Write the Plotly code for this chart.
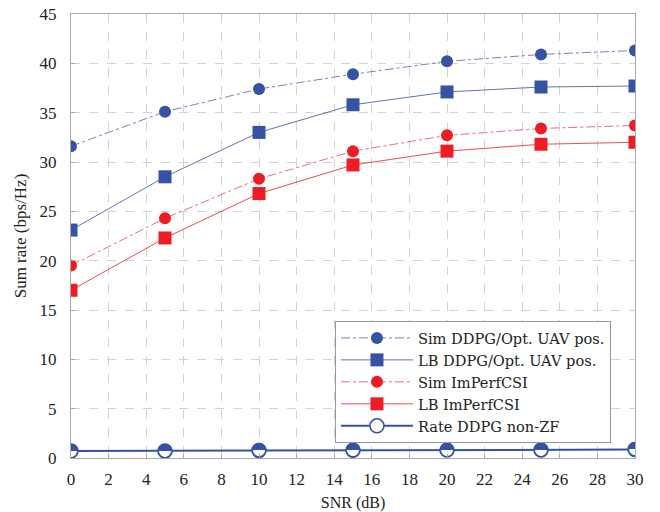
import plotly.graph_objects as go

snr = [0, 5, 10, 15, 20, 25, 30]
sim_ddpg = [31.6, 35.1, 37.4, 38.9, 40.2, 40.9, 41.3]
lb_ddpg = [23.1, 28.5, 33.0, 35.8, 37.1, 37.6, 37.7]
sim_imperf = [19.5, 24.3, 28.3, 31.1, 32.7, 33.4, 33.7]
lb_imperf = [17.0, 22.3, 26.8, 29.7, 31.1, 31.8, 32.0]
nonzf = [0.70, 0.72, 0.75, 0.78, 0.80, 0.82, 0.85]

xticks = list(range(0, 31, 2))
yticks = list(range(0, 46, 5))

BLUE = "#3652A5"
RED = "#EE1C25"
FONT = "Liberation Serif, DejaVu Serif, serif"
LFONT = "DejaVu Serif, serif"

fig = go.Figure()
fig.add_trace(go.Scatter(x=snr, y=sim_ddpg, mode="lines+markers", name="Sim DDPG/Opt. UAV pos.",
                         line=dict(color="rgba(54,82,165,0.7)", width=1, dash="dashdot"),
                         marker=dict(symbol="circle", size=12, color=BLUE)))
fig.add_trace(go.Scatter(x=snr, y=lb_ddpg, mode="lines+markers", name="LB DDPG/Opt. UAV pos.",
                         line=dict(color="rgba(54,82,165,0.8)", width=1),
                         marker=dict(symbol="square", size=13, color=BLUE)))
fig.add_trace(go.Scatter(x=snr, y=sim_imperf, mode="lines+markers", name="Sim ImPerfCSI",
                         line=dict(color="rgba(238,28,37,0.65)", width=1, dash="dashdot"),
                         marker=dict(symbol="circle", size=12, color=RED)))
fig.add_trace(go.Scatter(x=snr, y=lb_imperf, mode="lines+markers", name="LB ImPerfCSI",
                         line=dict(color="rgba(238,28,37,0.8)", width=1),
                         marker=dict(symbol="square", size=13, color=RED)))
fig.add_trace(go.Scatter(x=snr, y=nonzf, mode="lines+markers", name="Rate DDPG non-ZF",
                         line=dict(color=BLUE, width=2),
                         marker=dict(symbol="circle", size=14, color="white",
                                     gradient=dict(type="vertical", color="white"),
                                     line=dict(color=BLUE, width=1.5))))
fig.add_trace(go.Scatter(x=snr, y=nonzf, mode="text", text=["◓"] * len(snr), showlegend=False,
                         textposition="middle center", hoverinfo="skip",
                         textfont=dict(family="DejaVu Sans", size=19, color=BLUE)))

fig.update_layout(
    width=660, height=512,
    margin=dict(l=71, r=25, t=14, b=54),
    paper_bgcolor="white", plot_bgcolor="white",
    font=dict(family=FONT, size=16, color="#222"),
    legend=dict(x=0.468, y=0.034, xanchor="left", yanchor="bottom",
                bgcolor="white", bordercolor="#999", borderwidth=1,
                font=dict(family=LFONT, size=14.6, color="#222"),
                tracegroupgap=0, itemwidth=72),
)
fig.update_xaxes(range=[0, 30], tickvals=xticks, automargin=False,
                 title=dict(text="SNR (dB)", font=dict(size=16), standoff=12),
                 showgrid=True, gridcolor="#d3d3d3", griddash="dash", gridwidth=1,
                 showline=True, linecolor="#aaa", mirror=True, zeroline=False,
                 ticks="inside", ticklen=4, tickcolor="#aaa", tickfont=dict(size=17),
                 ticklabelstandoff=6)
fig.update_yaxes(range=[0, 45], tickvals=yticks, automargin=False,
                 title=dict(text="Sum rate (bps/Hz)", font=dict(size=17), standoff=8),
                 showgrid=True, gridcolor="#d3d3d3", griddash="dash", gridwidth=1,
                 showline=True, linecolor="#aaa", mirror=True, zeroline=False,
                 ticks="inside", ticklen=4, tickcolor="#aaa", tickfont=dict(size=17),
                 ticklabelstandoff=10)

fig.write_html("out.html")
